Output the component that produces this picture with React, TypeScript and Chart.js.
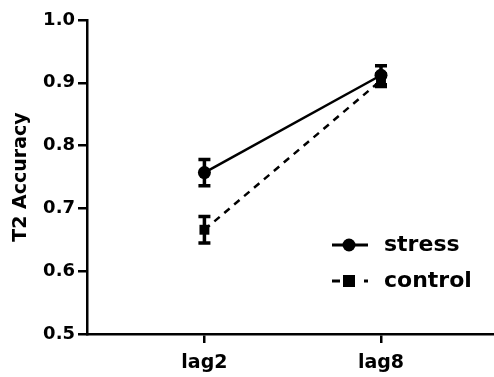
import React, { useEffect, useRef } from "react";
import { Chart, registerables } from "chart.js";

Chart.register(...registerables);

const categories = ["lag2", "lag8"];
const stressMean = [0.757, 0.912];
const stressErr = [0.021, 0.015];
const controlMean = [0.666, 0.904];
const controlErr = [0.021, 0.01];
const yTicks = [0.5, 0.6, 0.7, 0.8, 0.9, 1.0];

const FONT = "'DejaVu Sans', 'Liberation Sans', Arial, sans-serif";

// Vertical error bars with caps, drawn under the point markers.
const errorBars = {
  id: "errorBars",
  beforeDatasetsDraw(chart: any) {
    const { ctx } = chart;
    const xs = chart.scales.x;
    const ys = chart.scales.y;
    chart.data.datasets.forEach((ds: any) => {
      const errs: number[] = ds.errors || [];
      ds.data.forEach((p: any, i: number) => {
        const e = errs[i];
        if (e == null) return;
        const x = xs.getPixelForValue(p.x);
        const yTop = ys.getPixelForValue(p.y + e);
        const yBot = ys.getPixelForValue(p.y - e);
        ctx.save();
        ctx.strokeStyle = "#000";
        ctx.lineWidth = 3.5;
        ctx.setLineDash([]);
        ctx.beginPath();
        ctx.moveTo(x, yTop);
        ctx.lineTo(x, yBot);
        ctx.moveTo(x - 6, yTop);
        ctx.lineTo(x + 6, yTop);
        ctx.moveTo(x - 6, yBot);
        ctx.lineTo(x + 6, yBot);
        ctx.stroke();
        ctx.restore();
      });
    });
  },
};

// Legend with line samples and markers inside the plot area.
const legendBox = {
  id: "legendBox",
  afterDraw(chart: any) {
    const { ctx } = chart;
    ctx.save();
    ctx.strokeStyle = "#000";
    ctx.fillStyle = "#000";
    ctx.lineWidth = 3;
    ctx.font = `bold 22px ${FONT}`;
    ctx.textBaseline = "middle";
    ctx.textAlign = "left";

    // stress: solid line with a circle
    const y1 = 245;
    ctx.beginPath();
    ctx.moveTo(332, y1);
    ctx.lineTo(368, y1);
    ctx.stroke();
    ctx.beginPath();
    ctx.arc(349, y1, 6.5, 0, Math.PI * 2);
    ctx.fill();
    ctx.fillText("stress", 384, y1);

    // control: dashed line with a square
    const y2 = 281;
    ctx.beginPath();
    ctx.moveTo(332, y2);
    ctx.lineTo(340, y2);
    ctx.moveTo(364, y2);
    ctx.lineTo(368, y2);
    ctx.stroke();
    ctx.fillRect(343, y2 - 6, 12, 12);
    ctx.fillText("control", 384, y2);

    ctx.restore();
  },
};

export default function App() {
  const ref = useRef<HTMLCanvasElement>(null);

  useEffect(() => {
    document.body.style.margin = "0";
    const chart = new Chart(ref.current!, {
      type: "line",
      data: {
        datasets: [
          {
            label: "stress",
            data: categories.map((_, i) => ({ x: i, y: stressMean[i] })),
            errors: stressErr,
            borderColor: "#000",
            backgroundColor: "#000",
            borderWidth: 2.5,
            pointStyle: "circle",
            pointRadius: 6.5,
            pointBorderWidth: 0,
            order: 2,
          } as any,
          {
            label: "control",
            data: categories.map((_, i) => ({ x: i, y: controlMean[i] })),
            errors: controlErr,
            borderColor: "#000",
            backgroundColor: "#000",
            borderWidth: 2.5,
            borderDash: [7, 6],
            pointStyle: "rect",
            pointRadius: 7,
            pointBorderWidth: 0,
            order: 1,
          } as any,
        ],
      },
      options: {
        responsive: false,
        animation: false,
        layout: { autoPadding: false, padding: { top: 20, right: 0, left: 0, bottom: 0 } },
        plugins: { legend: { display: false }, tooltip: { enabled: false } },
        scales: {
          x: {
            type: "linear",
            min: -0.665,
            max: 1.64,
            afterBuildTicks: (s: any) => {
              s.ticks = categories.map((_, i) => ({ value: i }));
            },
            afterFit: (s: any) => {
              s.height = 43;
              s.paddingLeft = 0;
              s.paddingRight = 0;
            },
            ticks: {
              callback: (v: any) => categories[v] ?? "",
              color: "#000",
              font: { family: FONT, size: 19, weight: "bold" },
              padding: 9,
              maxRotation: 0,
            },
            grid: {
              display: true,
              drawOnChartArea: false,
              drawTicks: true,
              tickLength: 9,
              lineWidth: 2.5,
              color: "#000",
            },
            border: { color: "#000", width: 2.5 },
          },
          y: {
            min: 0.5,
            max: 1.0,
            afterBuildTicks: (s: any) => {
              s.ticks = yTicks.map((v) => ({ value: v }));
            },
            afterFit: (s: any) => {
              s.width = 87;
            },
            ticks: {
              callback: (v: any) => Number(v).toFixed(1),
              color: "#000",
              font: { family: FONT, size: 18, weight: "bold" },
              padding: 3,
            },
            grid: {
              display: true,
              drawOnChartArea: false,
              drawTicks: true,
              tickLength: 9,
              lineWidth: 2.5,
              color: "#000",
            },
            border: { color: "#000", width: 2.5 },
            title: {
              display: true,
              text: "T2 Accuracy",
              color: "#000",
              font: { family: FONT, size: 19, weight: "bold" },
              padding: { top: 10, bottom: 0 },
            },
          },
        },
      },
      plugins: [errorBars, legendBox],
    });
    return () => chart.destroy();
  }, []);

  return (
    <div style={{ position: "absolute", left: 0, top: 0, width: 494, height: 377 }}>
      <canvas ref={ref} width={494} height={377} />
    </div>
  );
}
